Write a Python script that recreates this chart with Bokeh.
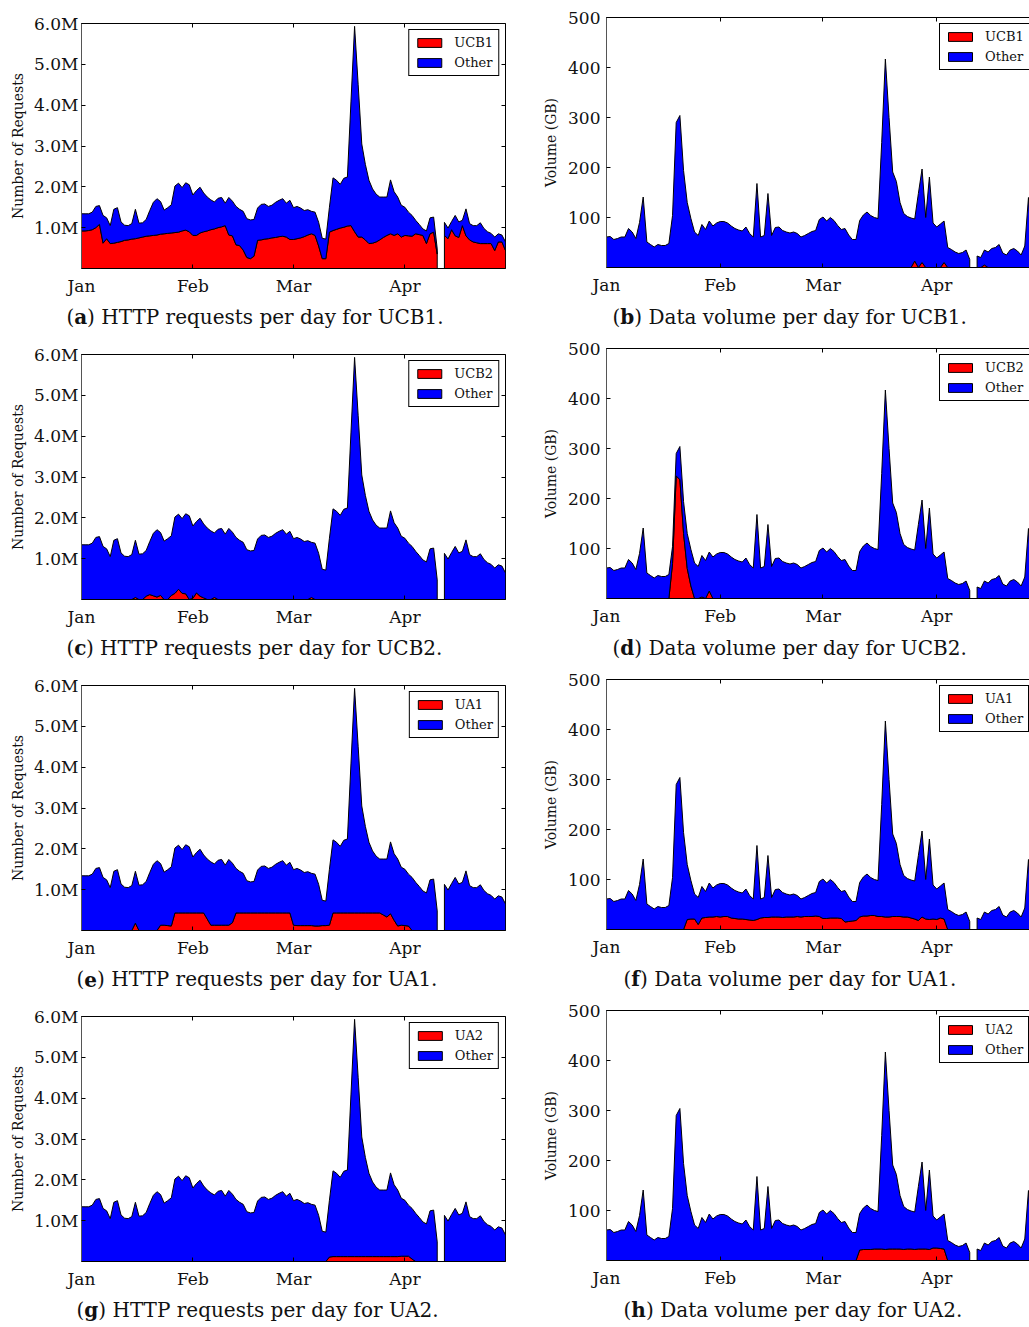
from bokeh.plotting import figure
from bokeh.layouts import column, row
from bokeh.models import Range1d, FixedTicker, LinearAxis, Legend, LegendItem
from bokeh.core.properties import value
from bokeh.embed import file_html
from bokeh.resources import INLINE

# ---------------- data (day index 0 = Jan 1; None = missing day) ----------------
MONTH_TICKS = [0, 31, 59, 90]
MONTH_LABELS = ["Jan", "Feb", "Mar", "Apr"]
REQ_TICKS = [1, 2, 3, 4, 5, 6]
REQ_LABELS = ["1.0M", "2.0M", "3.0M", "4.0M", "5.0M", "6.0M"]
VOL_TICKS = [100, 200, 300, 400, 500]
VOL_LABELS = ["100", "200", "300", "400", "500"]

# HTTP requests per day, all traffic (millions)
total_requests = [
    1.34, 1.34, 1.34, 1.38, 1.52, 1.54, 1.30, 1.24, 1.05, 1.45,
    1.49, 1.14, 1.06, 1.05, 1.10, 1.45, 1.11, 1.12, 1.20, 1.42,
    1.62, 1.71, 1.64, 1.43, 1.49, 1.56, 2.02, 2.09, 1.98, 2.10,
    2.05, 1.80, 1.91, 1.99, 1.85, 1.75, 1.68, 1.63, 1.72, 1.74,
    1.60, 1.74, 1.65, 1.52, 1.45, 1.40, 1.22, 1.19, 1.20, 1.48,
    1.57, 1.58, 1.52, 1.55, 1.62, 1.67, 1.71, 1.60, 1.67, 1.49,
    1.52, 1.48, 1.42, 1.44, 1.40, 1.38, 1.13, 0.74, 0.72, 1.50,
    2.22, 2.16, 2.06, 2.21, 2.24, 4.10, 5.93, 4.50, 3.05, 2.55,
    2.16, 1.95, 1.82, 1.75, 1.75, 1.75, 2.17, 1.88, 1.75, 1.55,
    1.50, 1.38, 1.30, 1.18, 1.08, 0.97, 0.92, 1.24, 1.26, 0.48,
    None, 1.13, 0.99, 1.15, 1.30, 1.14, 1.18, 1.46, 1.10, 1.05,
    1.05, 1.12, 0.98, 0.90, 0.86, 0.77, 0.85, 0.82, 0.65,
]
ucb1_requests = [
    0.92, 0.92, 0.93, 0.95, 1.00, 1.08, 0.62, 0.73, 0.61, 0.62,
    0.64, 0.66, 0.69, 0.70, 0.72, 0.73, 0.75, 0.77, 0.79, 0.80,
    0.81, 0.82, 0.84, 0.85, 0.86, 0.87, 0.88, 0.89, 0.92, 0.94,
    0.90, 0.81, 0.81, 0.87, 0.90, 0.92, 0.95, 0.97, 1.00, 1.02,
    1.05, 0.82, 0.80, 0.58, 0.56, 0.45, 0.27, 0.24, 0.30, 0.69,
    0.70, 0.72, 0.73, 0.75, 0.76, 0.78, 0.79, 0.77, 0.71, 0.71,
    0.73, 0.75, 0.78, 0.82, 0.85, 0.81, 0.55, 0.24, 0.24, 0.89,
    0.93, 0.96, 0.99, 1.01, 1.04, 1.05, 0.90, 0.77, 0.77, 0.70,
    0.61, 0.62, 0.65, 0.70, 0.76, 0.81, 0.85, 0.81, 0.85, 0.77,
    0.81, 0.80, 0.79, 0.85, 0.83, 0.81, 0.61, 0.85, 0.89, 0.35,
    None, 0.81, 0.73, 0.95, 0.80, 0.76, 1.05, 0.80, 0.70, 0.65,
    0.63, 0.61, 0.61, 0.61, 0.61, 0.44, 0.65, 0.65, 0.44,
]
ucb2_requests = [
    0, 0, 0, 0, 0, 0, 0, 0, 0, 0,
    0, 0, 0, 0, 0, 0.05, 0, 0, 0.08, 0.12,
    0.09, 0.06, 0.10, 0, 0, 0.10, 0.15, 0.25, 0.15, 0.14,
    0, 0.03, 0.16, 0.08, 0.04, 0, 0, 0.05, 0, 0,
    0, 0, 0, 0, 0, 0, 0, 0, 0, 0,
    0, 0, 0, 0, 0, 0, 0, 0, 0, 0,
    0, 0, 0, 0, 0.05, 0, 0, 0, 0, 0,
    0, 0, 0, 0, 0, 0, 0, 0, 0, 0,
    0, 0, 0, 0, 0, 0, 0, 0, 0, 0,
    0, 0, 0, 0, 0, 0, 0, 0, 0, 0,
    None, 0, 0, 0, 0, 0, 0, 0, 0, 0,
    0, 0, 0, 0, 0, 0, 0, 0, 0,
]
ua1_requests = [
    0, 0, 0, 0, 0, 0, 0, 0, 0, 0,
    0, 0, 0, 0, 0, 0.18, 0, 0, 0, 0,
    0, 0, 0.13, 0.13, 0.12, 0.11, 0.43, 0.43, 0.43, 0.43,
    0.43, 0.43, 0.43, 0.43, 0.43, 0.28, 0.13, 0.13, 0.13, 0.13,
    0.13, 0.13, 0.19, 0.43, 0.43, 0.43, 0.43, 0.43, 0.43, 0.43,
    0.43, 0.43, 0.43, 0.43, 0.43, 0.43, 0.43, 0.43, 0.43, 0.13,
    0.12, 0.12, 0.12, 0.12, 0.12, 0.11, 0.11, 0.12, 0.12, 0.13,
    0.43, 0.43, 0.43, 0.43, 0.43, 0.43, 0.43, 0.43, 0.43, 0.43,
    0.43, 0.43, 0.43, 0.43, 0.38, 0.33, 0.41, 0.25, 0.11, 0.13,
    0.12, 0.11, 0, 0, 0, 0, 0, 0, 0, 0,
    None, 0, 0, 0, 0, 0, 0, 0, 0, 0,
    0, 0, 0, 0, 0, 0, 0, 0, 0,
]
ua2_requests = [
    0, 0, 0, 0, 0, 0, 0, 0, 0, 0,
    0, 0, 0, 0, 0, 0, 0, 0, 0, 0,
    0, 0, 0, 0, 0, 0, 0, 0, 0, 0,
    0, 0, 0, 0, 0, 0, 0, 0, 0, 0,
    0, 0, 0, 0, 0, 0, 0, 0, 0, 0,
    0, 0, 0, 0, 0, 0, 0, 0, 0, 0,
    0, 0, 0, 0, 0, 0, 0, 0, 0, 0.11,
    0.12, 0.12, 0.12, 0.12, 0.12, 0.12, 0.12, 0.12, 0.12, 0.12,
    0.12, 0.12, 0.12, 0.12, 0.12, 0.12, 0.12, 0.12, 0.12, 0.13,
    0.13, 0.13, 0.06, 0, 0, 0, 0, 0, 0, 0,
    None, 0, 0, 0, 0, 0, 0, 0, 0, 0,
    0, 0, 0, 0, 0, 0, 0, 0, 0,
]

# Data volume per day, all traffic (GB)
total_volume = [
    61, 62, 56, 58, 61, 61, 78, 71, 58, 90,
    141, 51, 46, 41, 46, 44, 44, 48, 104, 290,
    304, 194, 130, 98, 71, 64, 86, 76, 93, 83,
    89, 92, 92, 89, 83, 78, 75, 73, 81, 68,
    61, 168, 61, 64, 148, 64, 80, 81, 74, 71,
    69, 71, 68, 61, 64, 68, 72, 74, 96, 101,
    93, 100, 94, 84, 76, 78, 65, 56, 56, 94,
    105, 111, 104, 100, 98, 250, 417, 300, 191, 172,
    130, 108, 102, 99, 97, 148, 197, 100, 181, 89,
    81, 87, 93, 40, 36, 31, 28, 30, 35, 16,
    None, 23, 20, 35, 31, 38, 40, 46, 29, 25,
    35, 38, 33, 25, 43, 140, 25,
]
ucb1_volume = [
    0, 0, 0, 0, 0, 0, 0, 0, 0, 0,
    0, 0, 0, 0, 0, 0, 0, 0, 0, 0,
    0, 0, 0, 0, 0, 0, 0, 0, 0, 0,
    0, 0, 0, 0, 0, 0, 0, 0, 0, 0,
    0, 0, 0, 0, 0, 0, 0, 0, 0, 0,
    0, 0, 0, 0, 0, 0, 0, 0, 0, 0,
    0, 0, 0, 0, 0, 0, 0, 0, 0, 0,
    0, 0, 0, 0, 0, 0, 0, 0, 0, 0,
    0, 0, 0, 0, 13, 0, 10, 0, 0, 0,
    0, 0, 10, 0, 0, 0, 0, 0, 0, 0,
    None, 0, 0, 5, 0, 0, 0, 0, 0, 0,
    0, 0, 0, 0, 0, 0, 0,
]
ucb2_volume = [
    0, 0, 0, 0, 0, 0, 0, 0, 0, 0,
    0, 0, 0, 0, 0, 0, 0, 0, 70, 245,
    238, 130, 60, 25, 0, 0, 3, 0, 15, 0,
    0, 0, 0, 0, 0, 0, 0, 0, 0, 0,
    0, 0, 0, 0, 0, 0, 0, 0, 0, 0,
    0, 0, 0, 0, 0, 0, 0, 0, 0, 0,
    0, 0, 0, 0, 0, 0, 0, 0, 0, 0,
    0, 0, 0, 0, 0, 0, 0, 0, 0, 0,
    0, 0, 0, 0, 0, 0, 0, 0, 0, 0,
    0, 0, 0, 0, 0, 0, 0, 0, 0, 0,
    None, 0, 0, 0, 0, 0, 0, 0, 0, 0,
    0, 0, 0, 0, 0, 0, 0,
]
ua1_volume = [
    0, 0, 0, 0, 0, 0, 0, 0, 0, 0,
    0, 0, 0, 0, 0, 0, 0, 0, 0, 0,
    0, 0, 20, 21, 21, 10, 23, 24, 25, 25,
    26, 25, 26, 26, 23, 22, 21, 21, 20, 19,
    18, 20, 23, 24, 24, 25, 25, 25, 24, 25,
    25, 25, 26, 25, 26, 26, 26, 27, 26, 22,
    22, 23, 23, 23, 22, 15, 16, 17, 18, 25,
    27, 27, 28, 28, 26, 26, 25, 25, 26, 26,
    26, 25, 25, 23, 21, 18, 25, 21, 20, 21,
    20, 23, 21, 0, 0, 0, 0, 0, 0, 0,
    None, 0, 0, 0, 0, 0, 0, 0, 0, 0,
    0, 0, 0, 0, 0, 0, 0,
]
ua2_volume = [
    0, 0, 0, 0, 0, 0, 0, 0, 0, 0,
    0, 0, 0, 0, 0, 0, 0, 0, 0, 0,
    0, 0, 0, 0, 0, 0, 0, 0, 0, 0,
    0, 0, 0, 0, 0, 0, 0, 0, 0, 0,
    0, 0, 0, 0, 0, 0, 0, 0, 0, 0,
    0, 0, 0, 0, 0, 0, 0, 0, 0, 0,
    0, 0, 0, 0, 0, 0, 0, 0, 0, 21,
    22, 22, 22, 23, 23, 23, 22, 23, 23, 23,
    23, 22, 23, 23, 22, 23, 23, 23, 22, 25,
    25, 24, 23, 0, 0, 0, 0, 0, 0, 0,
    None, 0, 0, 0, 0, 0, 0, 0, 0, 0,
    0, 0, 0, 0, 0, 0, 0,
]

SITES = ["UCB1", "UCB2", "UA1", "UA2"]
SITE_REQUESTS = [ucb1_requests, ucb2_requests, ua1_requests, ua2_requests]
SITE_VOLUME = [ucb1_volume, ucb2_volume, ua1_volume, ua2_volume]
LETTERS = [("a", "b"), ("c", "d"), ("e", "f"), ("g", "h")]
CAP_X_LEFT = [66, 66, 76, 76]     # caption start, px in the left column
CAP_X_RIGHT = [72, 72, 83, 83]    # caption start, px in the right column

# ---------------- styling ----------------
RED = "#FF0000"
BLUE = "#0000FF"
FONT = "DejaVu Serif"
CAP_FS = 20
BOLD_W = {"a": 0.64, "b": 0.70, "c": 0.58, "d": 0.70, "e": 0.64, "f": 0.44, "g": 0.70, "h": 0.74}


def build_polys(total, part):
    runs, cur = [], []
    for i, v in enumerate(total):
        if v is None:
            if cur:
                runs.append(cur)
            cur = []
        else:
            cur.append(i)
    if cur:
        runs.append(cur)
    rx, ry, bx, by = [], [], [], []
    for r in runs:
        xs = list(r)
        top = [total[i] for i in r]
        low = [part[i] for i in r]
        rx.append(xs + [xs[-1], xs[0]])
        ry.append(low + [0, 0])
        bx.append(xs + xs[::-1])
        by.append(top + low[::-1])
    return rx, ry, bx, by


def mirror_axis(ticks):
    return LinearAxis(ticker=FixedTicker(ticks=ticks), major_label_text_font_size="1px",
                      major_label_text_color=None, major_label_standoff=0,
                      major_tick_in=4, major_tick_out=0,
                      minor_tick_line_color=None, axis_line_color=None)


def panel(total, part, name, kind):
    if kind == "req":
        fw, fh, bl, br, bt, bb = 424, 245, 81, 35, 23, 35
        xend, yr = 118, (0, 6)
        ticks, labels, ylabel = REQ_TICKS, REQ_LABELS, "Number of Requests"
        lab_standoff, ax_standoff = 3, 5
    else:
        fw, fh, bl, br, bt, bb = 426, 250, 63, 0, 17, 36
        xend, yr = 116.1, (0, 500)
        ticks, labels, ylabel = VOL_TICKS, VOL_LABELS, "Volume (GB)"
        lab_standoff, ax_standoff = 6, 6
    p = figure(frame_width=fw, frame_height=fh,
               min_border_left=bl, min_border_right=br,
               min_border_top=bt, min_border_bottom=bb,
               x_range=Range1d(0, xend), y_range=Range1d(*yr),
               output_backend="svg", toolbar_location=None, tools="")
    p.frame_align = False
    p.xgrid.visible = False
    p.ygrid.visible = False
    p.background_fill_color = "white"
    p.border_fill_color = "white"
    p.outline_line_color = "black"
    p.outline_line_width = 1

    rx, ry, bx, by = build_polys(total, part)
    r_red = p.patches(xs=rx, ys=ry, fill_color=RED, line_color="black", line_width=1)
    r_blue = p.patches(xs=bx, ys=by, fill_color=BLUE, line_color="black", line_width=1)

    xa = p.xaxis[0]
    xa.ticker = FixedTicker(ticks=MONTH_TICKS)
    xa.major_label_overrides = dict(zip(MONTH_TICKS, MONTH_LABELS))
    xa.major_label_text_font = FONT
    xa.major_label_text_font_size = "17px"
    xa.major_label_text_color = "#111111"
    xa.major_label_standoff = 7
    xa.major_tick_in = 4
    xa.major_tick_out = 0
    xa.minor_tick_line_color = None
    xa.axis_line_color = "black"

    ya = p.yaxis[0]
    ya.ticker = FixedTicker(ticks=ticks)
    ya.major_label_overrides = dict(zip(ticks, labels))
    ya.major_label_text_font = FONT
    ya.major_label_text_font_size = "17px"
    ya.major_label_text_color = "#111111"
    ya.major_label_standoff = lab_standoff
    ya.major_tick_in = 4
    ya.major_tick_out = 0
    ya.minor_tick_line_color = None
    ya.axis_line_color = "#555555"
    ya.axis_label = ylabel
    ya.axis_label_text_font = FONT
    ya.axis_label_text_font_size = "14px"
    ya.axis_label_text_font_style = "normal"
    ya.axis_label_text_color = "#111111"
    ya.axis_label_standoff = ax_standoff

    p.add_layout(mirror_axis(MONTH_TICKS), "above")
    if kind == "req":
        p.add_layout(mirror_axis(ticks), "right")

    leg_kw = dict(items=[LegendItem(label=name, renderers=[r_red]),
                         LegendItem(label="Other", renderers=[r_blue])],
                  padding=5, spacing=5, glyph_width=30, glyph_height=11, label_standoff=10,
                  border_line_color="black", border_line_width=1, border_line_alpha=1,
                  background_fill_color="white", background_fill_alpha=1,
                  label_text_font=FONT, label_text_font_size="13px", label_text_color="#111111")
    if kind == "req":
        legend = Legend(location="top_right", margin=6, **leg_kw)
    else:
        legend = Legend(location=(333, 197), margin=0, **leg_kw)
    p.add_layout(legend)
    return p


def caption(width, x0, letter, rest):
    c = figure(width=width, height=28, x_range=Range1d(0, width), y_range=Range1d(0, 28),
               x_axis_type=None, y_axis_type=None, output_backend="svg",
               toolbar_location=None, tools="", min_border=0, outline_line_color=None)
    c.frame_align = False
    c.background_fill_color = "white"
    c.border_fill_color = "white"
    common = dict(y=[14.5], text_font=value(FONT), text_font_size=f"{CAP_FS}px",
                  text_baseline="middle", text_align="left", text_color="#111111")
    wp = 0.39 * CAP_FS
    wb = BOLD_W[letter] * CAP_FS
    c.text(x=[x0], text=["("], **common)
    c.text(x=[x0 + wp], text=[letter], text_font_style="bold", **common)
    c.text(x=[x0 + wp + wb], text=[") " + rest], **common)
    return c


rows = []
for k, site in enumerate(SITES):
    la, lb = LETTERS[k]
    pa = panel(total_requests, SITE_REQUESTS[k], site, "req")
    pb = panel(total_volume, SITE_VOLUME[k], site, "vol")
    ca = caption(540, CAP_X_LEFT[k], la, "HTTP requests per day for %s." % site)
    cb = caption(489, CAP_X_RIGHT[k], lb, "Data volume per day for %s." % site)
    rows.append(row(column(pa, ca), column(pb, cb)))

layout = column(*rows)
open("out.html", "w").write(file_html(layout, INLINE))
